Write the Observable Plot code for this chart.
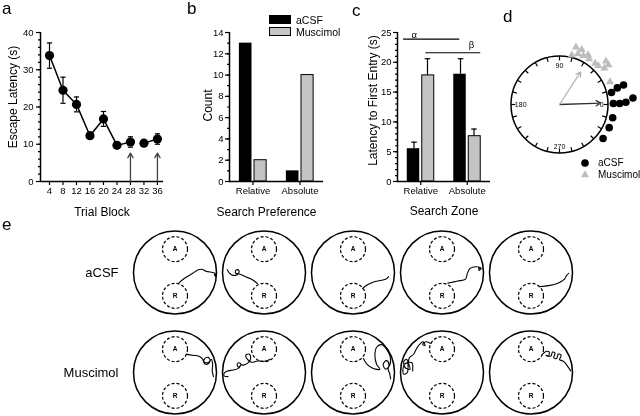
<!DOCTYPE html>
<html><head><meta charset="utf-8">
<script src="https://cdn.jsdelivr.net/npm/d3@7"></script>
<script src="https://cdn.jsdelivr.net/npm/@observablehq/plot@0.6"></script>
<style>
html,body{margin:0;padding:0;overflow:hidden;background:#fff;}
#fig{position:relative;width:640px;height:416px;overflow:hidden;background:#fff;font-family:"Liberation Sans",Arial,Helvetica,sans-serif;color:#000;}
#fig svg{will-change:transform;}
.lab{position:absolute;font-size:17px;line-height:17px;white-space:nowrap;}
.leg{position:absolute;font-size:10.5px;line-height:12px;white-space:nowrap;}
</style></head><body><div id="fig"></div>
<script>
// ---------- Panel a: escape latency ----------
const trialBlocks = [4, 8, 12, 16, 20, 24, 28, 32, 36];
const latency     = [33.8, 24.5, 20.7, 12.3, 16.8, 9.7, 10.6, 10.3, 11.4];
const latencySem  = [3.4, 3.5, 2.0, 0.5, 2.0, 0.5, 1.4, 0.6, 1.4];
const lineSegment = [0, 0, 0, 0, 0, 0, 0, 1, 1];
const probeBlocks = [28, 36];
const probeArrowTop = 7.6;
const latencyTicks = [0, 10, 20, 30, 40];

// ---------- Panel b: search preference ----------
const groups = ["aCSF", "Muscimol"];
const preferences = ["Relative", "Absolute"];
const countACSF = [13, 1];
const countMuscimol = [2, 10];

// ---------- Panel c: latency to first entry ----------
const zones = ["Relative", "Absolute"];
const entryACSF = [5.5, 18.0];
const entryACSFSem = [1.1, 2.6];
const entryMuscimol = [17.8, 7.6];
const entryMuscimolSem = [2.8, 1.2];
const sigLabels = ["α", "β"];
const sigY = [23.9, 21.6];
const sigFrom = [0.63, 1.11];
const sigTo = [1.84, 2.29];
const sigTextX = [0.86, 2.09];
const sigTextY = [24.6, 22.9];

// ---------- Panel d: circular headings (angle in degrees, radius as multiple of circle) ----------
const acsfAngle  = [13, 16, 17, 1, 1, 2, 5, -14, -25, -38];
const acsfRing   = [1.10, 1.24, 1.38, 1.11, 1.24, 1.37, 1.52, 1.13, 1.13, 1.14];
const muscAngle  = [76, 74, 70, 68, 64, 60, 57, 49, 45, 43, 39, 39, 24];
const muscRing   = [1.05, 1.23, 1.11, 1.22, 1.12, 1.18, 1.12, 1.12, 1.13, 1.31, 1.30, 1.19, 1.14];
const meanAngle  = [2, 57];      // aCSF, Muscimol
const meanLength = [0.85, 0.80];
const dialLabels = [0, 90, 180, 270];

// ---------- Panel e: swim paths (unit-circle coords, y up) ----------
const trials = [1, 2, 3, 4, 5];
const zoneNames = ["A", "R"];
const zoneY = [0.57, -0.57];
const acsf1 = [[0.09,-0.26],[0.23,-0.14],[0.43,-0.02],[0.55,0.06],[0.65,0.08],[0.75,0.03],[0.91,0.0],[0.97,-0.02],[0.98,-0.10],[0.95,-0.05]];
const acsf2 = [[-0.16,-0.27],[-0.29,-0.17],[-0.43,-0.11],[-0.53,-0.06],[-0.61,-0.03],[-0.60,0.03],[-0.64,0.07],[-0.69,0.04],[-0.68,-0.02],[-0.63,-0.03],[-0.70,-0.07],[-0.75,-0.07],[-0.82,-0.03],[-0.88,0.05],[-0.89,0.07]];
const acsf3 = [[0.23,-0.39],[0.35,-0.30],[0.53,-0.22],[0.69,-0.19],[0.80,-0.16],[0.86,-0.10]];
const acsf4 = [[0.14,-0.26],[0.38,-0.21],[0.57,-0.16],[0.61,-0.03],[0.68,0.10],[0.82,0.14],[0.94,0.11],[0.90,0.05],[0.89,0.11],[0.95,0.09]];
const acsf5 = [[0.20,-0.35],[0.43,-0.32],[0.65,-0.26],[0.81,-0.16],[0.86,-0.07],[0.91,-0.02]];
const musc1 = [[0.27,0.45],[0.42,0.42],[0.58,0.40],[0.66,0.34],[0.72,0.21],[0.78,0.20],[0.85,0.29],[0.80,0.37],[0.72,0.34],[0.70,0.26],[0.80,0.24],[0.88,0.32],[0.91,0.20],[0.90,0.04],[0.93,-0.10]];
const musc2 = [[0.14,0.32],[0.04,0.28],[-0.16,0.28],[-0.30,0.25],[-0.40,0.32],[-0.44,0.42],[-0.36,0.45],[-0.32,0.36],[-0.38,0.24],[-0.52,0.18],[-0.60,0.24],[-0.65,0.20],[-0.62,0.13],[-0.56,0.18],[-0.62,0.10],[-0.75,0.06],[-0.87,0.04],[-0.95,0.0],[-0.97,-0.08],[-0.87,-0.10]];
const musc3 = [[0.25,0.34],[0.34,0.20],[0.49,0.10],[0.65,0.08],[0.57,0.20],[0.53,0.44],[0.58,0.63],[0.70,0.68],[0.83,0.54],[0.90,0.38],[0.89,0.18],[0.79,0.08],[0.73,0.20],[0.81,0.29],[0.87,0.20],[0.85,0.08],[0.89,-0.04],[0.91,-0.16]];
const musc4 = [[-0.27,0.71],[-0.39,0.75],[-0.47,0.69],[-0.41,0.66],[-0.46,0.75],[-0.60,0.61],[-0.69,0.44],[-0.79,0.36],[-0.81,0.24],[-0.77,0.08],[-0.89,0.12],[-0.92,0.28],[-0.85,0.32],[-0.84,0.0],[-0.93,-0.04],[-0.91,0.20],[-0.73,0.24],[-0.71,0.04]];
const musc5 = [[0.28,0.45],[0.38,0.52],[0.44,0.50],[0.42,0.40],[0.36,0.42],[0.48,0.40],[0.52,0.50],[0.58,0.47],[0.55,0.36],[0.62,0.34],[0.66,0.45],[0.73,0.42],[0.69,0.31],[0.76,0.29],[0.82,0.24],[0.90,0.13],[0.96,0.04]];
const pathsACSF = [acsf1, acsf2, acsf3, acsf4, acsf5];
const pathsMuscimol = [musc1, musc2, musc3, musc4, musc5];

// ---------- helpers ----------
const fig = document.getElementById("fig");
const FONT = "'Liberation Sans', Arial, Helvetica, sans-serif";
const baseStyle = {background: "transparent", fontFamily: FONT, fontSize: "9.5px", overflow: "visible", color: "black"};
const GRAY = "#c4c4c4";
function place(node, left, top) {
  node.style.position = "absolute"; node.style.left = left + "px"; node.style.top = top + "px";
  fig.appendChild(node);
}
function html(cls, text, left, top, extra = "") {
  const d = document.createElement("div");
  d.className = cls; d.textContent = text;
  d.style.cssText += `left:${left}px;top:${top}px;${extra}`;
  fig.appendChild(d);
}
const capSymbol = {draw(ctx, size) { const w = Math.sqrt(size / Math.PI); ctx.moveTo(-w, 0); ctx.lineTo(w, 0); }};
const rad = (a) => a * Math.PI / 180;

// ---------- Panel a ----------
const aData = trialBlocks.map((t, i) => ({t, v: latency[i], e: latencySem[i], s: lineSegment[i]}));
const aX = [1.33, 37.8];
place(Plot.plot({
  width: 170, height: 222, marginLeft: 40, marginRight: 7, marginTop: 32, marginBottom: 41,
  style: baseStyle,
  x: {domain: aX, axis: null},
  y: {domain: [0, 40], axis: null},
  marks: [
    Plot.axisY({ticks: d3.range(0, 41, 2), tickSize: 2, tickFormat: () => "", label: null, strokeWidth: 1.2}),
    Plot.axisY({ticks: latencyTicks, tickSize: 4, tickPadding: 3, label: null, strokeWidth: 1.2, fill: "black"}),
    Plot.axisX({ticks: trialBlocks, tickSize: 4, tickPadding: 2, label: null, strokeWidth: 1.2, fill: "black"}),
    Plot.ruleX([aX[0]], {y1: 0, y2: 40, strokeWidth: 1.5}),
    Plot.ruleY([0], {strokeWidth: 1.5}),
    Plot.arrow(probeBlocks, {x1: d => d, x2: d => d, y1: 0, y2: probeArrowTop, stroke: "#444", strokeWidth: 1.3, headLength: 6}),
    Plot.line(aData, {x: "t", y: "v", z: "s", stroke: "black", strokeWidth: 1.5}),
    Plot.ruleX(aData, {x: "t", y1: d => d.v - d.e, y2: d => d.v + d.e, strokeWidth: 1.2}),
    Plot.dot(aData, {x: "t", y: d => d.v + d.e, symbol: capSymbol, r: 2.6, stroke: "black", fill: "none", strokeWidth: 1.2}),
    Plot.dot(aData, {x: "t", y: d => d.v - d.e, symbol: capSymbol, r: 2.6, stroke: "black", fill: "none", strokeWidth: 1.2}),
    Plot.dot(aData, {x: "t", y: "v", r: 4.6, fill: "black"}),
    Plot.text(["Trial Block"], {frameAnchor: "bottom", dy: 31, fontSize: 12, fill: "black", textAnchor: "middle", lineAnchor: "middle"}),
    Plot.text(["Escape Latency (s)"], {frameAnchor: "left", rotate: -90, dx: -27.5, dy: -10, fontSize: 12, fill: "black", textAnchor: "middle", lineAnchor: "middle"})
  ]
}), 0, 0);

// ---------- Panel b ----------
const idx2 = [0, 1];
const barHalf = 0.29;
const bX = [0.5, 2.5];
place(Plot.plot({
  width: 170, height: 222, marginLeft: 59, marginRight: 17, marginTop: 32, marginBottom: 41,
  style: baseStyle,
  x: {domain: bX, axis: null},
  y: {domain: [0, 14], axis: null},
  marks: [
    Plot.rect(idx2, {x1: i => i + 1 - barHalf, x2: i => i + 1, y1: 0, y2: i => countACSF[i], fill: "black", insetRight: 1}),
    Plot.rect(idx2, {x1: i => i + 1, x2: i => i + 1 + barHalf, y1: 0, y2: i => countMuscimol[i], fill: GRAY, stroke: "black", strokeWidth: 1, insetLeft: 1.5}),
    Plot.axisY({ticks: d3.range(0, 15, 1), tickSize: 2, tickFormat: () => "", label: null, strokeWidth: 1.2}),
    Plot.axisY({ticks: d3.range(0, 15, 2), tickSize: 4, tickPadding: 2, label: null, strokeWidth: 1.2, fill: "black"}),
    Plot.axisX({ticks: [1, 2], tickFormat: i => preferences[i - 1], tickSize: 4, tickPadding: 2, label: null, strokeWidth: 1.2, fill: "black"}),
    Plot.ruleX([bX[0]], {y1: 0, y2: 14, strokeWidth: 1.5}),
    Plot.ruleY([0], {strokeWidth: 1.5}),
    Plot.text(["Search Preference"], {frameAnchor: "bottom", dx: -10, dy: 31, fontSize: 12, fill: "black", textAnchor: "middle", lineAnchor: "middle"}),
    Plot.text(["Count"], {frameAnchor: "left", rotate: -90, dx: -21.5, dy: -1.5, fontSize: 12, fill: "black", textAnchor: "middle", lineAnchor: "middle"})
  ]
}), 170, 0);

// legend b
html("leg", "", 269, 15, `width:22px;height:9px;background:#000;`);
html("leg", "", 269, 27, `width:22px;height:9px;background:${GRAY};border:1px solid #000;box-sizing:border-box;`);
html("leg", groups[0], 296, 13.5);
html("leg", groups[1], 296, 25.5);

// ---------- Panel c ----------
const cX = [0.5, 2.5];
place(Plot.plot({
  width: 170, height: 222, marginLeft: 67, marginRight: 10, marginTop: 32, marginBottom: 41,
  style: baseStyle,
  x: {domain: cX, axis: null},
  y: {domain: [0, 25], axis: null},
  marks: [
    Plot.rect(idx2, {x1: i => i + 1 - barHalf, x2: i => i + 1, y1: 0, y2: i => entryACSF[i], fill: "black", insetRight: 1}),
    Plot.rect(idx2, {x1: i => i + 1, x2: i => i + 1 + barHalf, y1: 0, y2: i => entryMuscimol[i], fill: GRAY, stroke: "black", strokeWidth: 1, insetLeft: 1.5}),
    Plot.ruleX(idx2, {x: i => i + 1 - barHalf / 2, y1: i => entryACSF[i], y2: i => entryACSF[i] + entryACSFSem[i], strokeWidth: 1.2}),
    Plot.dot(idx2, {x: i => i + 1 - barHalf / 2, y: i => entryACSF[i] + entryACSFSem[i], symbol: capSymbol, r: 2.8, stroke: "black", fill: "none", strokeWidth: 1.2}),
    Plot.ruleX(idx2, {x: i => i + 1 + barHalf / 2, y1: i => entryMuscimol[i], y2: i => entryMuscimol[i] + entryMuscimolSem[i], strokeWidth: 1.2}),
    Plot.dot(idx2, {x: i => i + 1 + barHalf / 2, y: i => entryMuscimol[i] + entryMuscimolSem[i], symbol: capSymbol, r: 2.8, stroke: "black", fill: "none", strokeWidth: 1.2}),
    Plot.ruleY(idx2, {y: i => sigY[i], x1: i => sigFrom[i], x2: i => sigTo[i], strokeWidth: 1.2}),
    Plot.text(idx2, {x: i => sigTextX[i], y: i => sigTextY[i], text: i => sigLabels[i], fontSize: 9.5, fill: "black"}),
    Plot.axisY({ticks: d3.range(0, 26, 1), tickSize: 2, tickFormat: () => "", label: null, strokeWidth: 1.2}),
    Plot.axisY({ticks: d3.range(0, 26, 5), tickSize: 4, tickPadding: 2, label: null, strokeWidth: 1.2, fill: "black"}),
    Plot.axisX({ticks: [1, 2], tickFormat: i => zones[i - 1], tickSize: 4, tickPadding: 2, label: null, strokeWidth: 1.2, fill: "black"}),
    Plot.ruleX([cX[0]], {y1: 0, y2: 25, strokeWidth: 1.5}),
    Plot.ruleY([0], {strokeWidth: 1.5}),
    Plot.text(["Search Zone"], {frameAnchor: "bottom", dy: 30, fontSize: 12, fill: "black", textAnchor: "middle", lineAnchor: "middle"}),
    Plot.text(["Latency to First Entry (s)"], {frameAnchor: "left", rotate: -90, dx: -24.5, dy: -6.5, fontSize: 12, fill: "black", textAnchor: "middle", lineAnchor: "middle"})
  ]
}), 330, 0);

// ---------- Panel d ----------
const R = 48.5;
const tickAngles = d3.range(0, 360, 15);
const acsfPts = acsfAngle.map((a, i) => ({x: acsfRing[i] * Math.cos(rad(a)), y: acsfRing[i] * Math.sin(rad(a))}));
const muscPts = muscAngle.map((a, i) => ({x: muscRing[i] * Math.cos(rad(a)), y: muscRing[i] * Math.sin(rad(a))}));
const labR = (a) => (a === 0 || a === 270) ? 0.87 : 0.8;
place(Plot.plot({
  width: 140, height: 130, marginLeft: 0, marginRight: 0, marginTop: 0, marginBottom: 0,
  style: {...baseStyle, fontSize: "7px"},
  x: {domain: [-59 / R, 81 / R], axis: null},
  y: {domain: [-66 / R, 64 / R], axis: null},
  marks: [
    Plot.dot([0], {x: 0, y: 0, r: R, stroke: "black", strokeWidth: 1.5, fill: "none"}),
    Plot.link(tickAngles, {x1: a => Math.cos(rad(a)), y1: a => Math.sin(rad(a)), x2: a => 0.91 * Math.cos(rad(a)), y2: a => 0.91 * Math.sin(rad(a)), stroke: "black", strokeWidth: 1.2}),
    Plot.text(dialLabels, {x: a => labR(a) * Math.cos(rad(a)), y: a => labR(a) * Math.sin(rad(a)), text: a => String(a), fontSize: 7, fill: "black"}),
    Plot.arrow(idx2, {x1: 0, y1: 0, x2: i => meanLength[i] * Math.cos(rad(meanAngle[i])), y2: i => meanLength[i] * Math.sin(rad(meanAngle[i])), stroke: i => i === 0 ? "#333" : "#b5b5b5", strokeWidth: 1.3, headLength: 6}),
    Plot.dot(muscPts, {x: "x", y: "y", symbol: "triangle", r: 3, fill: "#bdbdbd"}),
    Plot.dot(acsfPts, {x: "x", y: "y", r: 3.8, fill: "black"})
  ]
}), 500, 40);

// legend d
(function() {
  const ns = "http://www.w3.org/2000/svg";
  const s = document.createElementNS(ns, "svg");
  s.setAttribute("width", 14); s.setAttribute("height", 26);
  const c = document.createElementNS(ns, "circle");
  c.setAttribute("cx", 7); c.setAttribute("cy", 6); c.setAttribute("r", 3.8); c.setAttribute("fill", "#000");
  const t = document.createElementNS(ns, "path");
  t.setAttribute("d", d3.symbol(d3.symbolTriangle, 9 * Math.PI)()); t.setAttribute("transform", "translate(7,18)"); t.setAttribute("fill", "#bdbdbd");
  s.appendChild(c); s.appendChild(t);
  place(s, 578, 157);
})();
html("leg", groups[0], 598, 157, "font-size:10px;");
html("leg", groups[1], 598, 169, "font-size:10px;");

// ---------- Panel e ----------
const arenas = groups.flatMap(g => trials.map(t => ({g, t})));
const zoneMarks = arenas.flatMap(a => zoneNames.map((z, i) => ({...a, z, y: zoneY[i]})));
const pathPts = [[groups[0], pathsACSF], [groups[1], pathsMuscimol]].flatMap(([g, ps]) =>
  ps.flatMap((p, k) => p.map(([x, y]) => ({g, t: trials[k], id: g + k, x, y}))));
const E = 1.076;
place(Plot.plot({
  width: 640, height: 208, marginLeft: 129, marginRight: 64, marginTop: 17, marginBottom: 1,
  style: {...baseStyle, fontSize: "13px"},
  fx: {domain: trials, padding: 0, axis: null},
  fy: {domain: groups, paddingInner: 0.116, paddingOuter: 0, axis: "left", label: null, tickSize: 0, tickPadding: 12},
  x: {domain: [-E, E], axis: null},
  y: {domain: [-E, E], axis: null},
  marks: [
    Plot.dot(arenas, {fx: "t", fy: "g", x: 0, y: 0, r: 41.5, stroke: "black", strokeWidth: 1.5, fill: "none"}),
    Plot.dot(zoneMarks, {fx: "t", fy: "g", x: 0, y: "y", r: 12.5, stroke: "black", strokeWidth: 1.2, strokeDasharray: "3,2", fill: "none"}),
    Plot.text(zoneMarks, {fx: "t", fy: "g", x: 0, y: "y", text: "z", fontSize: 6.5, fontWeight: "bold", fill: "black"}),
    Plot.line(pathPts, {fx: "t", fy: "g", x: "x", y: "y", z: "id", curve: "catmull-rom", stroke: "black", strokeWidth: 1.1})
  ]
}), 0, 210);

// panel letters
html("lab", "a", 2, 0);
html("lab", "b", 187, 0);
html("lab", "c", 352, 1.6);
html("lab", "d", 503, 7.6);
html("lab", "e", 2, 215.6);
</script>
</body></html>
